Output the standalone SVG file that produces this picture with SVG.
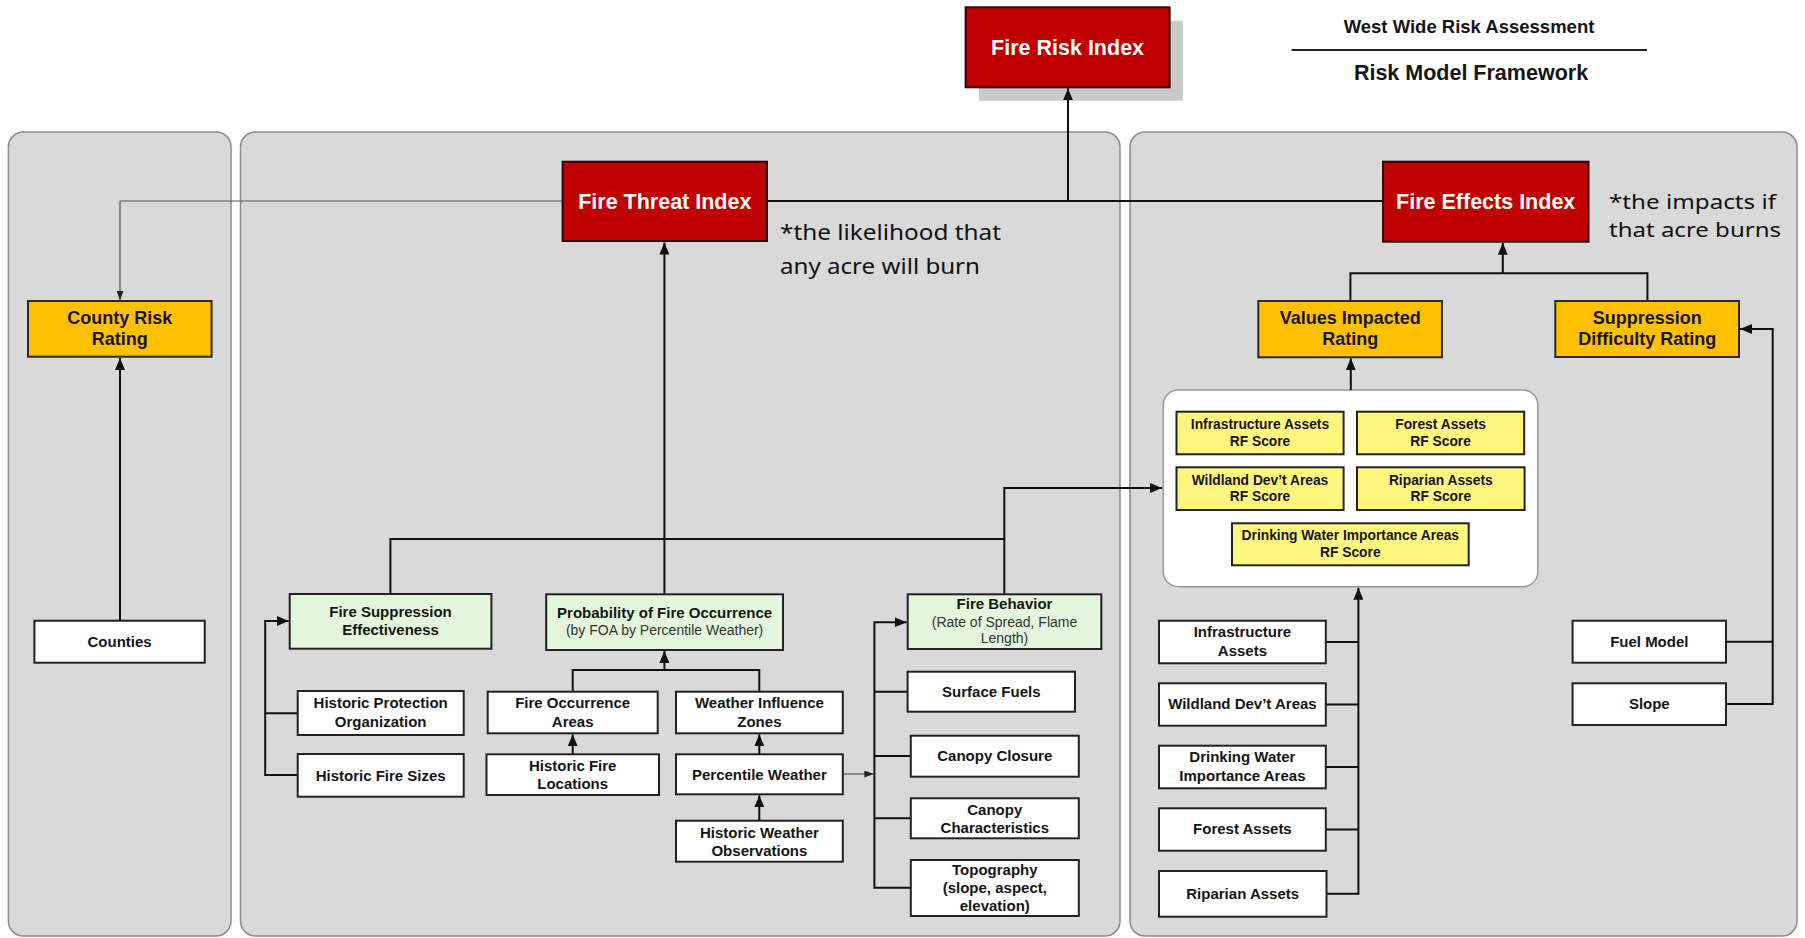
<svg xmlns="http://www.w3.org/2000/svg" width="1805" height="938" viewBox="0 0 1805 938">
<style>
.panel{fill:#d9d9d9;stroke:#8a8a8a;stroke-width:1.5}
.red{fill:#c00000;stroke:#2a0808;stroke-width:2}
.orange{fill:#ffc000;stroke:#2a2a2a;stroke-width:2}
.green{fill:#e4f7dc;stroke:#222;stroke-width:2}
.white{fill:#fff;stroke:#222;stroke-width:2}
.yellow{fill:#fff67f;stroke:#222;stroke-width:2}
.c{fill:none;stroke:#111;stroke-width:2}
.thin{fill:none;stroke:#555;stroke-width:1.2}
text{font-family:"Liberation Sans",Arial,sans-serif;font-weight:bold;font-size:15px;fill:#151515;text-anchor:middle}
.tr{font-size:21.5px;fill:#fff}
.to{font-size:18px}
.ty{font-size:13.8px}
.reg{font-weight:normal;font-size:14px;fill:#333}
.note{font-family:"Noto Sans","Open Sans",sans-serif;font-weight:normal;font-size:21.5px;fill:#111;text-anchor:start}
.note2{font-size:20px}
</style>
<defs>
<marker id="a" markerUnits="userSpaceOnUse" markerWidth="12" markerHeight="10" refX="12" refY="5" orient="auto"><path d="M0,0 L12,5 L0,10 z" fill="#111"/></marker>
<marker id="s" markerUnits="userSpaceOnUse" markerWidth="9" markerHeight="7" refX="9" refY="3.5" orient="auto"><path d="M0,0 L9,3.5 L0,7 z" fill="#222"/></marker>
</defs>
<rect width="1805" height="938" fill="#fff"/>
<g id="panels">
<rect class="panel" x="8.4" y="132" width="222.6" height="804" rx="15"/>
<rect class="panel" x="240.5" y="132" width="879.5" height="804" rx="15"/>
<rect class="panel" x="1130" y="132" width="667" height="804" rx="15"/>
</g>
<g id="title">
<text x="1469" y="33" style="font-size:18.5px">West Wide Risk Assessment</text>
<line x1="1291.5" y1="50" x2="1647" y2="50" stroke="#222" stroke-width="2"/>
<text x="1471" y="80" style="font-size:21.5px">Risk Model Framework</text>
</g>
<g id="fire-risk-index">
<rect x="979" y="20.7" width="204" height="80" fill="#cbcbcb"/>
<rect class="red" x="965.6" y="7.3" width="204" height="80"/>
<text class="tr" x="1067.6" y="55">Fire Risk Index</text>
</g>
<g id="container">
<rect x="1163.3" y="390" width="374.5" height="196.7" rx="15" fill="#fff" stroke="#999" stroke-width="1.5"/>
</g>
<g id="connectors">
<path class="c" d="M767,201 H1383"/>
<path class="c" d="M1068,201 V88.3" marker-end="url(#a)"/>
<path class="thin" d="M562.6,201 H120 V300" marker-end="url(#s)"/>
<path class="c" d="M120,620.7 V358" marker-end="url(#a)"/>
<path class="c" d="M390.4,594 V539 H1004.3 V594"/>
<path class="c" d="M1004.3,539 V488 H1162" marker-end="url(#a)"/>
<path class="c" d="M664.4,594.3 V242.5" marker-end="url(#a)"/>
<path class="c" d="M297.7,713.3 H265.2 M297.7,775 H265.2 V621 H288.7" marker-end="url(#a)"/>
<path class="c" d="M572.7,691.7 V670 H759.3 V691.7"/>
<path class="c" d="M664.4,670 V651" marker-end="url(#a)"/>
<path class="c" d="M572.7,754.3 V734.3" marker-end="url(#a)"/>
<path class="c" d="M759.3,754.3 V734.3" marker-end="url(#a)"/>
<path class="c" d="M759.3,820.7 V795.3" marker-end="url(#a)"/>
<path class="thin" d="M842.8,774 H873.4" marker-end="url(#s)"/>
<path class="c" d="M907.6,691.7 H874.4 M910.8,756 H874.4 M910.8,818.3 H874.4 M910.8,887.7 H874.4 V622.3 H906.6" marker-end="url(#a)"/>
<path class="c" d="M1350.4,301 V273.3 H1647.4 V301"/>
<path class="c" d="M1502.8,273.3 V242.7" marker-end="url(#a)"/>
<path class="c" d="M1350.8,390 V358.3" marker-end="url(#a)"/>
<path class="c" d="M1326,642 H1358.4 M1326,704.5 H1358.4 M1326,767 H1358.4 M1326,829.5 H1358.4 M1326.5,893.7 H1358.4 V587.7" marker-end="url(#a)"/>
<path class="c" d="M1726,641.7 H1772.7 M1726,704 H1772.7 V329 H1740" marker-end="url(#a)"/>
</g>
<g id="fire-threat-index">
<rect class="red" x="562.6" y="161.7" width="204.4" height="79.3"/>
<text class="tr" x="664.8" y="208.5">Fire Threat Index</text>
</g>
<g id="fire-effects-index">
<rect class="red" x="1383" y="161.7" width="205.5" height="80"/>
<text class="tr" x="1485.7" y="208.5">Fire Effects Index</text>
</g>
<g id="note-threat">
<text class="note" x="780" y="240" textLength="221" lengthAdjust="spacingAndGlyphs">*the likelihood that</text>
<text class="note" x="780" y="273.5" textLength="200" lengthAdjust="spacingAndGlyphs">any acre will burn</text>
</g>
<g id="note-effects">
<text class="note note2" x="1609" y="209" textLength="167" lengthAdjust="spacingAndGlyphs">*the impacts if</text>
<text class="note note2" x="1609" y="237" textLength="172" lengthAdjust="spacingAndGlyphs">that acre burns</text>
</g>
<g id="county-risk-rating">
<rect class="orange" x="28" y="301" width="183.6" height="55.7"/>
<text class="to" x="119.8" y="323.5">County Risk</text>
<text class="to" x="119.8" y="345">Rating</text>
</g>
<g id="values-impacted-rating">
<rect class="orange" x="1258.3" y="301" width="183.7" height="56.3"/>
<text class="to" x="1350.2" y="323.5">Values Impacted</text>
<text class="to" x="1350.2" y="345">Rating</text>
</g>
<g id="suppression-difficulty-rating">
<rect class="orange" x="1555.3" y="301" width="183.7" height="56"/>
<text class="to" x="1647.2" y="323.5">Suppression</text>
<text class="to" x="1647.2" y="345">Difficulty Rating</text>
</g>
<g id="counties">
<rect class="white" x="34.4" y="620.7" width="170.3" height="42"/>
<text x="119.6" y="647">Counties</text>
</g>
<g id="fire-suppression-effectiveness">
<rect class="green" x="289.7" y="594" width="201.7" height="54.7"/>
<text x="390.5" y="616.7">Fire Suppression</text>
<text x="390.5" y="635">Effectiveness</text>
</g>
<g id="probability-of-fire-occurrence">
<rect class="green" x="546.2" y="594.3" width="236.8" height="55.7"/>
<text x="664.6" y="617.5">Probability of Fire Occurrence</text>
<text class="reg" x="664.6" y="635">(by FOA by Percentile Weather)</text>
</g>
<g id="fire-behavior">
<rect class="green" x="907.7" y="594.3" width="193.6" height="54.7"/>
<text x="1004.5" y="609">Fire Behavior</text>
<text class="reg" x="1004.5" y="626.7">(Rate of Spread, Flame</text>
<text class="reg" x="1004.5" y="643.3">Length)</text>
</g>
<g id="historic-protection-organization">
<rect class="white" x="297.7" y="691" width="166" height="44"/>
<text x="380.7" y="708.3">Historic Protection</text>
<text x="380.7" y="726.7">Organization</text>
</g>
<g id="historic-fire-sizes">
<rect class="white" x="297.7" y="754" width="166" height="42.7"/>
<text x="380.7" y="780.5">Historic Fire Sizes</text>
</g>
<g id="fire-occurrence-areas">
<rect class="white" x="487.7" y="691.7" width="170" height="41.6"/>
<text x="572.7" y="708.3">Fire Occurrence</text>
<text x="572.7" y="726.7">Areas</text>
</g>
<g id="weather-influence-zones">
<rect class="white" x="676" y="691.7" width="166.8" height="41.6"/>
<text x="759.4" y="708.3">Weather Influence</text>
<text x="759.4" y="726.7">Zones</text>
</g>
<g id="historic-fire-locations">
<rect class="white" x="486.5" y="754.3" width="172.5" height="40.7"/>
<text x="572.7" y="770.5">Historic Fire</text>
<text x="572.7" y="789">Locations</text>
</g>
<g id="percentile-weather">
<rect class="white" x="676" y="754.3" width="166.8" height="40"/>
<text x="759.4" y="779.7">Percentile Weather</text>
</g>
<g id="historic-weather-observations">
<rect class="white" x="676" y="820.7" width="166.8" height="41"/>
<text x="759.4" y="837.5">Historic Weather</text>
<text x="759.4" y="856">Observations</text>
</g>
<g id="surface-fuels">
<rect class="white" x="907.6" y="671.7" width="167.4" height="40"/>
<text x="991.3" y="696.5">Surface Fuels</text>
</g>
<g id="canopy-closure">
<rect class="white" x="910.8" y="735.7" width="168" height="41"/>
<text x="994.8" y="761">Canopy Closure</text>
</g>
<g id="canopy-characteristics">
<rect class="white" x="910.8" y="798.3" width="168" height="40"/>
<text x="994.8" y="814.5">Canopy</text>
<text x="994.8" y="832.7">Characteristics</text>
</g>
<g id="topography">
<rect class="white" x="910.8" y="860" width="168" height="56"/>
<text x="994.8" y="875">Topography</text>
<text x="994.8" y="893.2">(slope, aspect,</text>
<text x="994.8" y="911.2">elevation)</text>
</g>
<g id="infrastructure-rf">
<rect class="yellow" x="1176.5" y="411.7" width="167.1" height="42.6"/>
<text class="ty" x="1260" y="429.3">Infrastructure Assets</text>
<text class="ty" x="1260" y="445.7">RF Score</text>
</g>
<g id="forest-rf">
<rect class="yellow" x="1357" y="411.7" width="167.2" height="42.6"/>
<text class="ty" x="1440.6" y="429.3">Forest Assets</text>
<text class="ty" x="1440.6" y="445.7">RF Score</text>
</g>
<g id="wildland-rf">
<rect class="yellow" x="1176.5" y="467.3" width="167.1" height="42.7"/>
<text class="ty" x="1260" y="484.5">Wildland Dev’t Areas</text>
<text class="ty" x="1260" y="501">RF Score</text>
</g>
<g id="riparian-rf">
<rect class="yellow" x="1357" y="467.3" width="167.6" height="42.7"/>
<text class="ty" x="1440.8" y="484.5">Riparian Assets</text>
<text class="ty" x="1440.8" y="501">RF Score</text>
</g>
<g id="drinking-water-rf">
<rect class="yellow" x="1232" y="523.3" width="236.7" height="42"/>
<text class="ty" x="1350.3" y="540.3">Drinking Water Importance Areas</text>
<text class="ty" x="1350.3" y="556.7">RF Score</text>
</g>
<g id="infrastructure-assets">
<rect class="white" x="1159" y="620.7" width="166.8" height="42.6"/>
<text x="1242.4" y="637.3">Infrastructure</text>
<text x="1242.4" y="656">Assets</text>
</g>
<g id="wildland-devt-areas">
<rect class="white" x="1159" y="683.3" width="166.8" height="42.4"/>
<text x="1242.4" y="709.4">Wildland Dev’t Areas</text>
</g>
<g id="drinking-water-importance-areas">
<rect class="white" x="1159" y="745.7" width="166.8" height="42.6"/>
<text x="1242.4" y="762">Drinking Water</text>
<text x="1242.4" y="780.5">Importance Areas</text>
</g>
<g id="forest-assets">
<rect class="white" x="1159" y="808.3" width="166.8" height="42.4"/>
<text x="1242.4" y="834.3">Forest Assets</text>
</g>
<g id="riparian-assets">
<rect class="white" x="1159" y="871" width="167.5" height="45.7"/>
<text x="1242.7" y="898.7">Riparian Assets</text>
</g>
<g id="fuel-model">
<rect class="white" x="1572.6" y="620.7" width="153.4" height="42"/>
<text x="1649.3" y="646.5">Fuel Model</text>
</g>
<g id="slope">
<rect class="white" x="1572.6" y="683.3" width="153.4" height="41.7"/>
<text x="1649.3" y="709.4">Slope</text>
</g>
</svg>
